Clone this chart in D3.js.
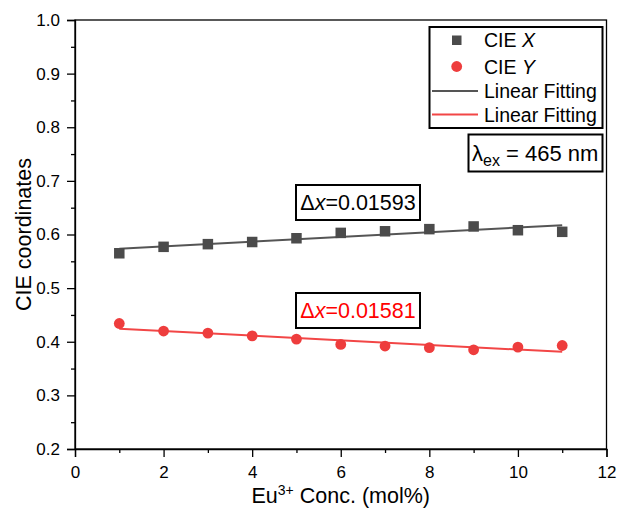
<!DOCTYPE html>
<html><head><meta charset="utf-8">
<script src="https://cdn.jsdelivr.net/npm/d3@7"></script>
<style>body{margin:0;background:#fff}svg{display:block}text{font-family:"Liberation Sans",Arial,sans-serif}</style>
</head><body><svg id="c" width="623" height="508"></svg>
<script>
const conc = [1,2,3,4,5,6,7,8,9,10,11];
const cieX = [0.565,0.577,0.582,0.586,0.593,0.603,0.606,0.610,0.615,0.608,0.605];
const cieY = [0.434,0.420,0.416,0.411,0.405,0.395,0.392,0.389,0.385,0.390,0.393];
const xTicks = [0,2,4,6,8,10,12];
const yTicks = [0.2,0.3,0.4,0.5,0.6,0.7,0.8,0.9,1.0];
const labelX = "Δx=0.01593", labelY = "Δx=0.01581";

const svg = d3.select("#c");
const L=75, R=606.5, T=20, B=449;
const x = d3.scaleLinear().domain([0,12]).range([L,R]);
const y = d3.scaleLinear().domain([0.2,1.0]).range([B,T]);
const grayM="#4b4b4b", grayL="#555555", redM="#ee3d3d", redL="#f24646";

function fit(xs, ys){
  const n=xs.length, mx=d3.mean(xs), my=d3.mean(ys);
  let sxy=0,sxx=0; xs.forEach((v,i)=>{sxy+=(v-mx)*(ys[i]-my);sxx+=(v-mx)*(v-mx);});
  const b=sxy/sxx, a=my-b*mx;
  return [[xs[0],a+b*xs[0]],[xs[n-1],a+b*xs[n-1]]];
}

// frame
svg.append("rect").attr("x",L).attr("y",T).attr("width",R-L).attr("height",B-T)
  .attr("fill","none").attr("stroke","#000").attr("stroke-width",1.3);

// axes
const xAx = svg.append("g").attr("transform",`translate(0,${B})`)
  .call(d3.axisBottom(x).tickValues(xTicks).tickSize(8).tickPadding(5).tickFormat(d3.format("d")));
svg.append("g").attr("transform",`translate(0,${B})`)
  .call(d3.axisBottom(x).tickValues(d3.range(1,12,2)).tickSize(4).tickFormat(""))
  .select(".domain").remove();
const yAx = svg.append("g").attr("transform",`translate(${L},0)`)
  .call(d3.axisLeft(y).tickValues(yTicks).tickSize(8).tickPadding(7).tickFormat(d3.format(".1f")));
svg.append("g").attr("transform",`translate(${L},0)`)
  .call(d3.axisLeft(y).tickValues(d3.range(0.25,1.0,0.1)).tickSize(4).tickFormat(""))
  .select(".domain").remove();
svg.selectAll(".domain").attr("stroke","#000").attr("stroke-width",1.3);
svg.selectAll(".tick line").attr("stroke","#000").attr("stroke-width",1.3);
xAx.selectAll("text").attr("font-size",17).attr("fill","#000").attr("dy","0.95em");
yAx.selectAll("text").attr("font-size",17).attr("fill","#000");
svg.selectAll(".tick text").style("font-family","'Liberation Sans',Arial,sans-serif");

// axis titles
svg.append("text").attr("transform",`translate(31,${(T+B)/2}) rotate(-90)`)
  .attr("text-anchor","middle").attr("font-size",21.5).text("CIE coordinates");
const xt = svg.append("text").attr("x",(L+R)/2).attr("y",503).attr("text-anchor","middle").attr("font-size",21.5);
xt.append("tspan").text("Eu");
xt.append("tspan").attr("font-size",14).attr("dy",-8).text("3+");
xt.append("tspan").attr("dy",8).text(" Conc. (mol%)");

// fit lines
const line = d3.line().x(d=>x(d[0])).y(d=>y(d[1]));
svg.append("path").attr("d",line(fit(conc,cieX))).attr("stroke",grayL).attr("stroke-width",2).attr("fill","none");
svg.append("path").attr("d",line(fit(conc,cieY))).attr("stroke",redL).attr("stroke-width",2).attr("fill","none");

// points
const s=10.5;
svg.selectAll(".sq").data(conc).enter().append("rect")
  .attr("x",(d)=>x(d)-s/2).attr("y",(d,i)=>y(cieX[i])-s/2).attr("width",s).attr("height",s).attr("fill",grayM);
svg.selectAll(".ci").data(conc).enter().append("circle")
  .attr("cx",d=>x(d)).attr("cy",(d,i)=>y(cieY[i])).attr("r",5.4).attr("fill",redM);

// delta labels
function dlabel(cx, cy, txt, col){
  const g = svg.append("g");
  g.append("rect").attr("x",cx-62).attr("y",cy-17.5).attr("width",124).attr("height",35)
    .attr("fill","#fff").attr("stroke","#000").attr("stroke-width",2);
  const t = g.append("text").attr("x",cx).attr("y",cy+7.5).attr("text-anchor","middle").attr("font-size",21.5).attr("fill",col);
  t.append("tspan").text(txt[0]);
  t.append("tspan").attr("font-style","italic").text(txt[1]);
  t.append("tspan").text(txt.slice(2));
}
dlabel(358, 202.5, labelX, "#000");
dlabel(358, 310.5, labelY, "#ff0000");

// legend
const lg = svg.append("g");
lg.append("rect").attr("x",429.5).attr("y",27).attr("width",173).attr("height",101)
  .attr("fill","#fff").attr("stroke","#000").attr("stroke-width",2);
lg.append("rect").attr("x",452).attr("y",35.5).attr("width",9.5).attr("height",9.5).attr("fill",grayM);
lg.append("circle").attr("cx",456.7).attr("cy",66.5).attr("r",5.4).attr("fill",redM);
lg.append("line").attr("x1",432).attr("x2",478).attr("y1",91).attr("y2",91).attr("stroke",grayL).attr("stroke-width",2);
lg.append("line").attr("x1",432).attr("x2",478).attr("y1",114.5).attr("y2",114.5).attr("stroke",redL).attr("stroke-width",2);
const legTxt = [["CIE ","X",47],["CIE ","Y",73.5]];
legTxt.forEach(d=>{
  const t=lg.append("text").attr("x",484).attr("y",d[2]).attr("font-size",19.5);
  t.append("tspan").text(d[0]); t.append("tspan").attr("font-style","italic").text(d[1]);
});
lg.append("text").attr("x",484).attr("y",98).attr("font-size",19.5).text("Linear Fitting");
lg.append("text").attr("x",484).attr("y",121.5).attr("font-size",19.5).text("Linear Fitting");

// lambda box
lg.append("rect").attr("x",468.5).attr("y",134.5).attr("width",134).attr("height",37)
  .attr("fill","#fff").attr("stroke","#000").attr("stroke-width",2);
const lt = lg.append("text").attr("x",472).attr("y",161).attr("font-size",22);
lt.append("tspan").text("λ");
lt.append("tspan").attr("font-size",16).attr("dy",5).text("ex");
lt.append("tspan").attr("dy",-5).text(" = 465 nm");
</script></body></html>
